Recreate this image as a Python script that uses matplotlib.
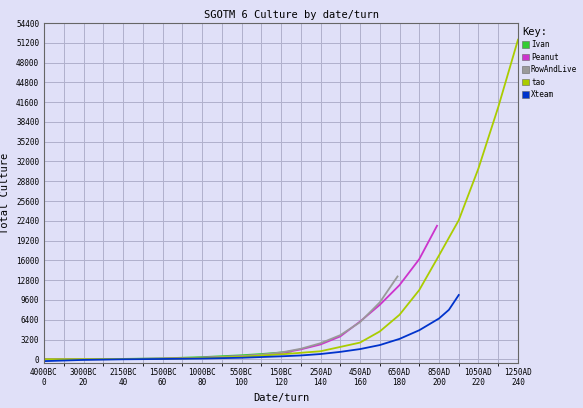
import matplotlib
matplotlib.use("Agg")
import matplotlib.pyplot as plt
from matplotlib.patches import Patch

# turn -> total culture
ivan_t = [0, 20, 40, 60, 80, 100, 110, 120, 125]
ivan_v = [0, 20, 60, 150, 350, 650, 850, 1100, 1250]

peanut_t = [0, 20, 40, 60, 80, 100, 110, 120, 130, 140, 150, 160, 170, 180, 190, 199]
peanut_v = [0, 10, 40, 100, 250, 500, 700, 1000, 1600, 2400, 3700, 6100, 8800, 12000, 16200, 21600]

row_t = [0, 20, 40, 60, 80, 100, 110, 120, 130, 140, 150, 160, 170, 179]
row_v = [0, 10, 40, 100, 250, 500, 750, 1100, 1700, 2600, 3900, 6000, 9200, 13400]

tao_t = [0, 20, 40, 60, 80, 100, 120, 140, 160, 170, 180, 190, 200, 210, 220, 230, 240]
tao_v = [0, 10, 30, 80, 200, 400, 800, 1300, 2700, 4500, 7200, 11200, 16800, 22500, 30900, 40800, 51700]

xteam_t = [0, 20, 40, 60, 80, 100, 120, 130, 140, 150, 160, 170, 180, 190, 200, 205, 210]
xteam_v = [-300, -100, 0, 50, 120, 250, 480, 620, 850, 1200, 1650, 2300, 3300, 4700, 6600, 8000, 10400]

date_labels = ["4000BC", "3000BC", "2150BC", "1500BC", "1000BC", "550BC", "150BC",
               "250AD", "450AD", "650AD", "850AD", "1050AD", "1250AD"]
turn_ticks = list(range(0, 241, 20))

names = ["Ivan", "Peanut", "RowAndLive", "tao", "Xteam"]
colors = ["#33cc33", "#cc33cc", "#999999", "#aacc00", "#0033cc"]

bg = "#e0e0f8"
fig = plt.figure(figsize=(5.83, 4.08), dpi=100, facecolor=bg)
ax = fig.add_axes([44 / 583, 45 / 408, 474 / 583, 340 / 408])
ax.set_facecolor(bg)

series = [(ivan_t, ivan_v), (peanut_t, peanut_v), (row_t, row_v), (tao_t, tao_v), (xteam_t, xteam_v)]
for (t, v), c in zip(series, colors):
    ax.plot(t, v, color=c, lw=1.3)

ax.set_xlim(0, 240)
ax.set_ylim(-600, 54400)
ax.set_yticks(range(0, 54401, 3200))
ax.set_xticks(range(0, 241, 10), minor=True)
ax.set_xticks(turn_ticks)
ax.set_xticklabels([f"{d}\n{t}" for d, t in zip(date_labels, turn_ticks)])
ax.grid(True, which="both", color="#b0b0cc", lw=0.7)
ax.set_axisbelow(True)
ax.tick_params(labelsize=5.5, length=0)
for s in ax.spines.values():
    s.set_color("#666666")

font = "DejaVu Sans Mono"
for lab in ax.get_xticklabels() + ax.get_yticklabels():
    lab.set_family(font)
ax.set_xlabel("Date/turn", family=font, fontsize=7.5)
ax.set_ylabel("Total Culture", family=font, fontsize=7.5)
fig.text(0.5, 0.975, "SGOTM 6 Culture by date/turn", ha="center", va="top",
         family=font, fontsize=7.5)

handles = [Patch(facecolor=c, edgecolor="#666666", lw=0.4, label=n) for n, c in zip(names, colors)]
leg = ax.legend(handles=handles, loc="upper left", bbox_to_anchor=(1.0, 1.0), title="Key:",
                frameon=False, prop={"family": font, "size": 5.5},
                handlelength=0.9, handleheight=0.9, borderaxespad=0.1,
                handletextpad=0.3, labelspacing=0.45)
leg.get_title().set_family(font)
leg.get_title().set_fontsize(7.5)
leg._legend_box.align = "left"

fig.savefig("out.png", dpi=100, facecolor=bg)
